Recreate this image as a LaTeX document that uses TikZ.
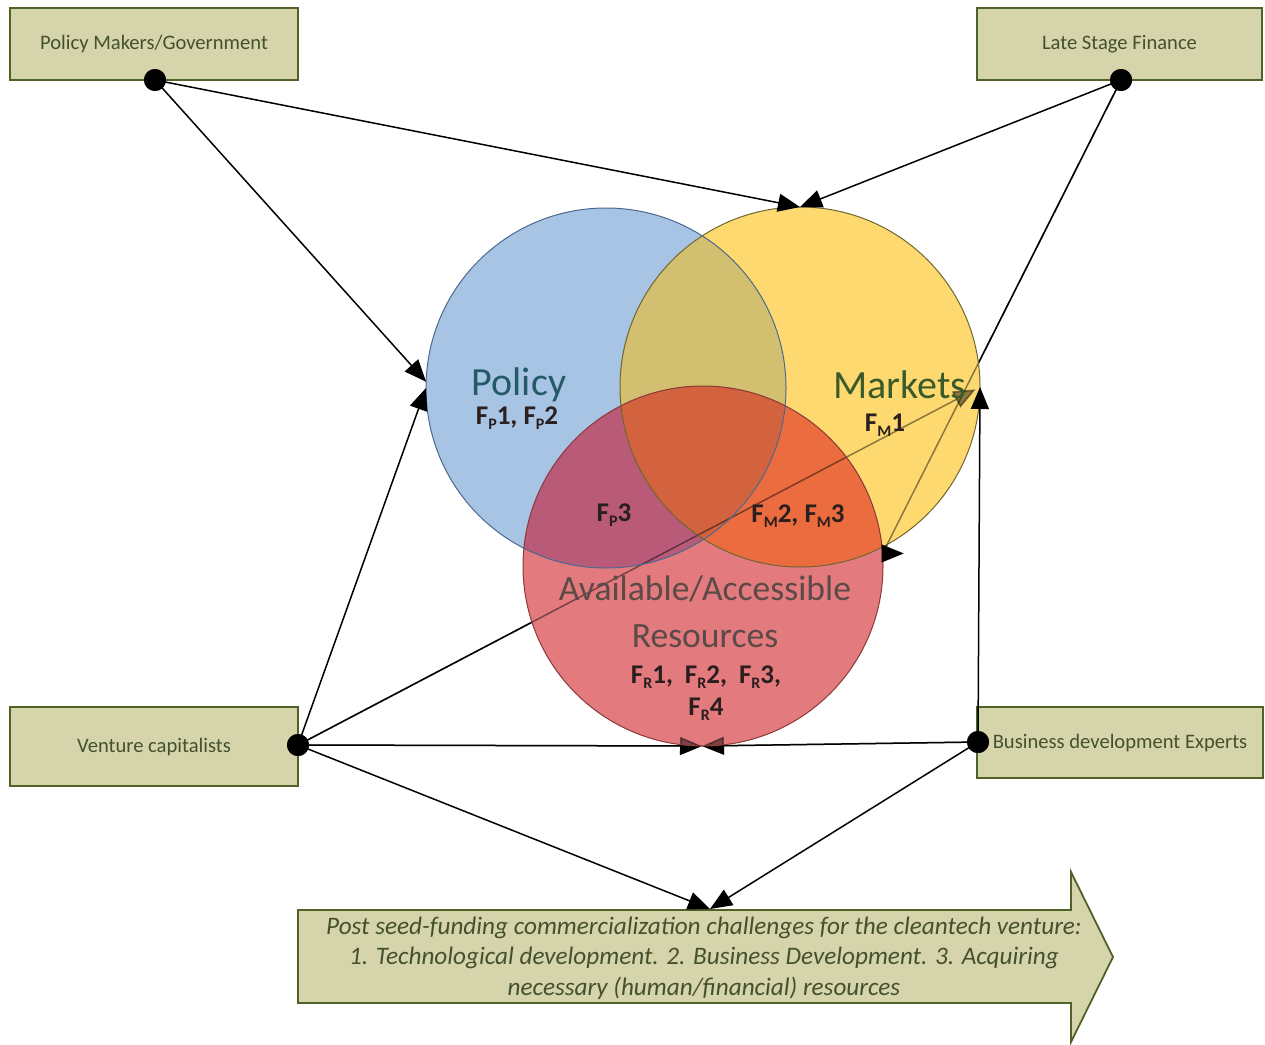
\documentclass[tikz,border=0pt]{standalone}
\usepackage{fontspec}
\setmainfont{Carlito}
\usetikzlibrary{arrows.meta,calc}

\definecolor{boxfill}{HTML}{D6D4AA}
\definecolor{boxline}{HTML}{4F6228}
\definecolor{boxtext}{HTML}{44512F}
\definecolor{polfill}{HTML}{A8C4E5}
\definecolor{mktfill}{HTML}{FED970}
\definecolor{olivefill}{HTML}{D2C070}
\definecolor{resfill}{HTML}{E27A7E}
\definecolor{mauvefill}{HTML}{B85A78}
\definecolor{orangefill}{HTML}{EB6C3E}
\definecolor{corefill}{HTML}{D3623F}
\definecolor{polline}{HTML}{4A6A90}
\definecolor{mktline}{HTML}{6F6630}
\definecolor{resline}{HTML}{8A3A3A}
\definecolor{poltext}{HTML}{245A66}
\definecolor{mkttext}{HTML}{3A5A2A}
\definecolor{restext}{HTML}{5C4A48}
\definecolor{factorink}{HTML}{2A1E1E}

% lowered small capital used as an index after F
\newcommand\fidx[1]{\raisebox{-0.35ex}{\fontsize{16}{16}\selectfont #1}}

\tikzset{
  actor/.style={draw=boxline, line width=1.8pt, fill=boxfill, text=boxtext,
    inner sep=0pt, outer sep=0pt, font=\fontsize{20.6}{24}\selectfont},
  hub/.style={circle, fill=black, minimum size=22pt, inner sep=0pt, outer sep=0pt},
  tipshape/.style={-{Triangle[length=22pt,width=18pt]}},
  link/.style={line width=1.5pt, tipshape},
  ring/.style={circle, minimum size=360pt, inner sep=0pt, outer sep=0pt},
  bigname/.style={font=\fontsize{40}{46}\selectfont, inner sep=0pt},
  factor/.style={font=\bfseries\fontsize{27}{32}\selectfont, text=factorink, inner sep=0pt, align=center},
}

\begin{document}
\begin{tikzpicture}[x=1pt,y=-1pt]
\useasboundingbox (0,0) rectangle (1265,1044);

% stakeholder boxes
\node[actor, minimum width=288pt, minimum height=72pt] (pm) at (154,44) {Policy Makers/Government};
\node[actor, minimum width=285pt, minimum height=72pt] (ls) at (1119.5,44) {Late Stage Finance};
\node[actor, minimum width=288pt, minimum height=79pt] (vc) at (154,746.5) {Venture capitalists};
\node[actor, minimum width=286pt, minimum height=71pt] (bd) at (1120,742.5) {Business development Experts};

% connection points on the boxes
\node[hub] (pmd) at (155,80) {};
\node[hub] (lsd) at (1121,80) {};
\node[hub] (vcd) at (298,745) {};
\node[hub] (bdd) at (978,742) {};

% the three factor circles (anchors only)
\node[ring] (pol) at (606,388) {};
\node[ring] (mk) at (800,387) {};
\node[ring] (res) at (703,566) {};
\def\rad{180pt}
\coordinate (lsend) at (res.4);

% connectors that run beneath the circles
\draw[link, shorten >=5pt] (vcd.center) -- (mk.east);
\draw[line width=1.5pt] (lsd.center) -- (lsend);
\draw[link, shorten >=1pt] (vcd.center) -- (res.south);
\draw[link, shorten >=-1pt] (bdd.center) -- (res.south);

% circle fills, region by region
\fill[polfill] (pol.center) circle[radius=\rad];
\fill[mktfill] (mk.center) circle[radius=\rad];
\begin{scope}
  \clip (pol.center) circle[radius=\rad];
  \fill[olivefill] (mk.center) circle[radius=\rad];
\end{scope}
\fill[resfill] (res.center) circle[radius=\rad];
\begin{scope}
  \clip (res.center) circle[radius=\rad];
  \fill[mauvefill] (pol.center) circle[radius=\rad];
  \fill[orangefill] (mk.center) circle[radius=\rad];
  \clip (pol.center) circle[radius=\rad];
  \fill[corefill] (mk.center) circle[radius=\rad];
\end{scope}

% the hidden connectors show faintly through the circles
\begin{scope}[opacity=0.45]
  \draw[link, shorten >=5pt] (vcd.center) -- (mk.east);
  \draw[line width=1.5pt] (lsd.center) -- (lsend);
  \draw[link, shorten >=1pt] (vcd.center) -- (res.south);
  \draw[link, shorten >=-1pt] (bdd.center) -- (res.south);
\end{scope}

% circle outlines
\draw[polline, line width=1pt] (pol.center) circle[radius=\rad];
\draw[mktline, line width=1pt] (mk.center) circle[radius=\rad];
\draw[resline, line width=1pt] (res.center) circle[radius=\rad];

% connectors drawn on top
\draw[link] (pmd.center) -- (pol.178);
\draw[link] (vcd.center) -- (pol.180);
\draw[link] (pmd.center) -- (mk.north);
\draw[link] (lsd.center) -- (mk.north);
\draw[link] (bdd.center) -- (mk.east);
% head of the Late Stage Finance connector, set facing right
\draw[tipshape, line width=0.1pt] (lsend) -- ++(21,0);

% venture challenges arrow
\coordinate (goal) at (710,909);
\draw[boxline, line width=1.8pt, fill=boxfill]
  (298,910) -- (1071,910) -- (1071,872) -- (1113,957) -- (1071,1042)
  -- (1071,1003) -- (298,1003) -- cycle;
\node[align=center, inner sep=0pt, text=boxtext,
      font=\itshape\fontsize{25.2}{30.5}\selectfont] (ch) at (704,958)
  {Post seed-funding commercialization challenges for the cleantech venture:\\
   1. Technological development. 2. Business Development. 3. Acquiring\\
   necessary (human/financial) resources};
\draw[link] (vcd.center) -- (goal);
\draw[link] (bdd.center) -- (goal);

% hubs on top of the lines
\node[hub] at (pmd) {};
\node[hub] at (lsd) {};
\node[hub] at (vcd) {};
\node[hub] at (bdd) {};

% circle captions
\node[bigname, text=poltext] (polname) at (519,385) {Policy};
\node[factor] (fp12) at (517,418) {F\fidx{P}1, F\fidx{P}2};
\node[bigname, text=mkttext] (mkname) at (900,385) {Markets};
\node[factor] (fm1) at (885,425) {F\fidx{M}1};
\node[factor] (fp3) at (614,515) {F\fidx{P}3};
\node[factor] (fm23) at (798,516) {F\fidx{M}2, F\fidx{M}3};
\node[align=center, inner sep=0pt, text=restext,
      font=\fontsize{35.6}{47}\selectfont] (resname) at (705,612)
  {Available/Accessible\\Resources};
\node[factor] (fr) at (706,693)
  {F\fidx{R}1,\hspace{12pt}F\fidx{R}2,\hspace{12pt}F\fidx{R}3,\\F\fidx{R}4};
\end{tikzpicture}
\end{document}
